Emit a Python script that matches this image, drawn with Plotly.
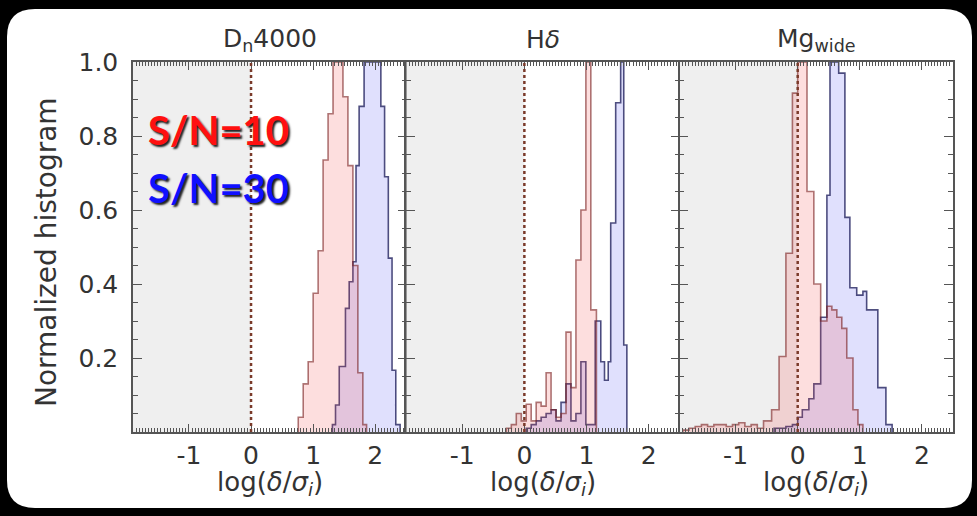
import plotly.graph_objects as go
from plotly.subplots import make_subplots

W, H = 977, 516
ML, MR, MT, MB = 133, 24, 62, 84

# ---------------- text ----------------
panel_titles = ["D<sub>n</sub>4000", "H<i>δ</i>", "Mg<sub>wide</sub>"]
x_title = "log(<i>δ</i>/<i>σ</i><sub><i>i</i></sub>)"
y_title = "Normalized histogram"
x_tick_vals = [-1, 0, 1, 2]
x_tick_text = ["-1", "0", "1", "2"]
y_tick_vals = [0.2, 0.4, 0.6, 0.8, 1.0]
y_tick_text = ["0.2", "0.4", "0.6", "0.8", "1.0"]
label_sn10 = "S/N=10"
label_sn30 = "S/N=30"

# ---------------- data (bin edges / normalized heights) ----------------
# Dn4000
dn_sn10_edges = [0.76, 0.84, 0.92, 1.00, 1.08, 1.16, 1.24, 1.32, 1.40, 1.48, 1.56, 1.64, 1.72, 1.80, 1.86]
dn_sn10_heights = [0.04, 0.13, 0.19, 0.375, 0.49, 0.735, 0.86, 1.0, 1.0, 0.906, 0.72, 0.45, 0.16, 0.02]
dn_sn30_edges = [1.31, 1.36, 1.42, 1.52, 1.58, 1.64, 1.69, 1.74, 1.82, 1.87, 2.09, 2.15, 2.21, 2.27, 2.33, 2.40]
dn_sn30_heights = [0.02, 0.073, 0.177, 0.334, 0.406, 0.46, 0.72, 0.88, 1.0, 1.0, 0.88, 0.69, 0.47, 0.167, 0.02]

# Hdelta
hd_sn10_edges = [-0.29, -0.21, -0.13, -0.05, 0.03, 0.11, 0.19, 0.27, 0.35, 0.43, 0.51, 0.59, 0.67,
                 0.75, 0.83, 0.91, 0.99, 1.07, 1.16]
hd_sn10_heights = [0.01, 0.02, 0.05, 0.03, 0.075, 0.03, 0.08, 0.07, 0.16, 0.06, 0.04, 0.05, 0.27,
                   0.12, 0.465, 0.60, 1.0, 0.33]
hd_sn30_edges = [0.03, 0.11, 0.19, 0.27, 0.35, 0.43, 0.51, 0.59, 0.67, 0.75, 0.83, 0.91, 0.99,
                 1.07, 1.14, 1.23, 1.29, 1.35, 1.39, 1.47, 1.55, 1.60, 1.65]
hd_sn30_heights = [0.01, 0.02, 0.03, 0.04, 0.05, 0.06, 0.03, 0.08, 0.13, 0.03, 0.05, 0.19, 0.02,
                   0.02, 0.30, 0.19, 0.14, 0.19, 0.565, 0.89, 1.0, 0.235]

# Mg_wide
mg_sn10_edges = [-1.85, -1.75, -1.65, -1.55, -1.45, -1.35, -1.25, -1.15, -1.05, -0.95, -0.85, -0.75,
                 -0.65, -0.55, -0.42, -0.30, -0.19, -0.085, 0.0, 0.15, 0.26, 0.37, 0.47, 0.55,
                 0.63, 0.71, 0.79, 0.89, 0.97, 1.05]
mg_sn10_heights = [0.005, 0.01, 0.015, 0.02, 0.015, 0.02, 0.02, 0.015, 0.02, 0.025, 0.015, 0.02,
                   0.01, 0.03, 0.06, 0.204, 0.483, 0.916, 1.0, 0.65, 0.40, 0.30, 0.34, 0.33,
                   0.31, 0.28, 0.20, 0.06, 0.02]
mg_sn30_edges = [-0.38, -0.19, -0.085, 0.0, 0.074, 0.18, 0.26, 0.37, 0.47, 0.52, 0.66, 0.76, 0.84,
                 0.95, 1.05, 1.11, 1.29, 1.42, 1.52]
mg_sn30_heights = [0.01, 0.015, 0.02, 0.04, 0.06, 0.09, 0.13, 0.31, 0.64, 1.0, 0.97, 0.58, 0.39,
                   0.37, 0.38, 0.33, 0.12, 0.02]

panels = [
    (dn_sn10_edges, dn_sn10_heights, dn_sn30_edges, dn_sn30_heights),
    (hd_sn10_edges, hd_sn10_heights, hd_sn30_edges, hd_sn30_heights),
    (mg_sn10_edges, mg_sn10_heights, mg_sn30_edges, mg_sn30_heights),
]

X_RANGE = [-1.9, 2.5]
Y_RANGE = [0, 1.0]

RED_FILL = "rgba(245,70,70,0.18)"
RED_LINE = "rgba(120,30,30,0.60)"
BLUE_FILL = "rgba(70,70,245,0.17)"
BLUE_LINE = "rgba(35,35,95,0.80)"
FRAME = "#555555"
TEXT_COL = "#333333"
FONT = "DejaVu Sans, sans-serif"


def step_xy(edges, heights):
    xs, ys = [edges[0]], [0]
    for e, h in zip(edges[:-1], heights):
        xs.append(e)
        ys.append(h)
    xs += [edges[-1], edges[-1]]
    ys += [heights[-1], 0]
    return xs, ys


fig = make_subplots(rows=1, cols=3, shared_yaxes=True, horizontal_spacing=0)

for i, (e10, h10, e30, h30) in enumerate(panels, start=1):
    xr = "x" if i == 1 else f"x{i}"
    yr = "y" if i == 1 else f"y{i}"
    for edges, heights, fcol, lcol, name in [
        (e30, h30, BLUE_FILL, BLUE_LINE, label_sn30),
        (e10, h10, RED_FILL, RED_LINE, label_sn10),
    ]:
        xs, ys = step_xy(edges, heights)
        fig.add_trace(
            go.Scatter(x=xs, y=ys, mode="lines", line=dict(shape="hv", color=lcol, width=1.6),
                       fill="tozeroy", fillcolor=fcol, name=name, showlegend=False,
                       hoverinfo="skip"),
            row=1, col=i)
    fig.add_shape(type="rect", x0=X_RANGE[0], x1=0, y0=0, y1=1, xref=xr, yref=yr,
                  fillcolor="#efefef", line_width=0, layer="below")
    fig.add_shape(type="line", x0=0, x1=0, y0=0, y1=1, xref=xr, yref=yr,
                  line=dict(color="#7a3a2a", width=2.5, dash="dot"), layer="above")

axis_common = dict(showline=True, linecolor=FRAME, linewidth=1.5, mirror="allticks",
                   ticks="inside", tickcolor=FRAME, tickwidth=1.2, showgrid=False, zeroline=False,
                   tickfont=dict(family=FONT, size=25, color=TEXT_COL))

for i in range(1, 4):
    fig.update_xaxes(range=X_RANGE, tickvals=x_tick_vals, ticktext=x_tick_text, ticklen=8,
                     minor=dict(dtick=0.05, tick0=0, ticklen=4, ticks="inside", tickcolor=FRAME,
                                tickwidth=1),
                     ticklabelstandoff=0, **axis_common, row=1, col=i)
    fig.update_yaxes(range=Y_RANGE, tickvals=y_tick_vals, ticktext=y_tick_text, ticklen=9,
                     minor=dict(dtick=0.05, tick0=0, ticklen=5, ticks="inside", tickcolor=FRAME,
                                tickwidth=1),
                     showticklabels=(i == 1), ticklabelstandoff=8, **axis_common, row=1, col=i)


def px_to_paper(px, py):
    return (px - ML) / (W - ML - MR), (H - MB - py) / (H - MT - MB)


# rounded white card behind everything
x0p, y0p, x1p, y1p, r = 7, 9, 972, 508, 28
ax0, ay0 = px_to_paper(x0p, y0p)
ax1, ay1 = px_to_paper(x1p, y1p)
rx = r / (W - ML - MR)
ry = r / (H - MT - MB)
path = (f"M {ax0 + rx},{ay0} L {ax1 - rx},{ay0} Q {ax1},{ay0} {ax1},{ay0 - ry} "
        f"L {ax1},{ay1 + ry} Q {ax1},{ay1} {ax1 - rx},{ay1} "
        f"L {ax0 + rx},{ay1} Q {ax0},{ay1} {ax0},{ay1 + ry} "
        f"L {ax0},{ay0 - ry} Q {ax0},{ay0} {ax0 + rx},{ay0} Z")
fig.add_shape(type="path", path=path, xref="paper", yref="paper", fillcolor="white",
              line_width=0, layer="below")

ann = []
centers = [(1 / 6), 0.5, 5 / 6]
for c, t in zip(centers, panel_titles):
    ann.append(dict(text=t, x=c, y=px_to_paper(0, 40)[1], xref="paper", yref="paper",
                    showarrow=False, xanchor="center", yanchor="middle",
                    font=dict(family=FONT, size=25, color=TEXT_COL)))
    ann.append(dict(text=x_title, x=c, y=px_to_paper(0, 483)[1], xref="paper", yref="paper",
                    showarrow=False, xanchor="center", yanchor="middle",
                    font=dict(family=FONT, size=26, color=TEXT_COL)))
ann.append(dict(text=y_title, x=px_to_paper(46, 0)[0], y=px_to_paper(0, 252)[1], xref="paper",
                yref="paper", showarrow=False, textangle=-90, xanchor="center", yanchor="middle",
                font=dict(family=FONT, size=28, color=TEXT_COL)))
for txt, col, py in [(label_sn10, "#ff1010", 130), (label_sn30, "#1010ff", 188)]:
    ann.append(dict(text=f"<b>{txt}</b>", x=px_to_paper(146, 0)[0], y=px_to_paper(0, py)[1],
                    xref="paper", yref="paper", showarrow=False, xanchor="left", yanchor="middle",
                    font=dict(family="Lato, Open Sans, sans-serif", size=40, color=col,
                              shadow="2px 2px 2px #202020")))

fig.update_layout(width=W, height=H, margin=dict(l=ML, r=MR, t=MT, b=MB),
                  paper_bgcolor="black", plot_bgcolor="rgba(0,0,0,0)",
                  annotations=ann, showlegend=False)

fig.write_html("out.html")
